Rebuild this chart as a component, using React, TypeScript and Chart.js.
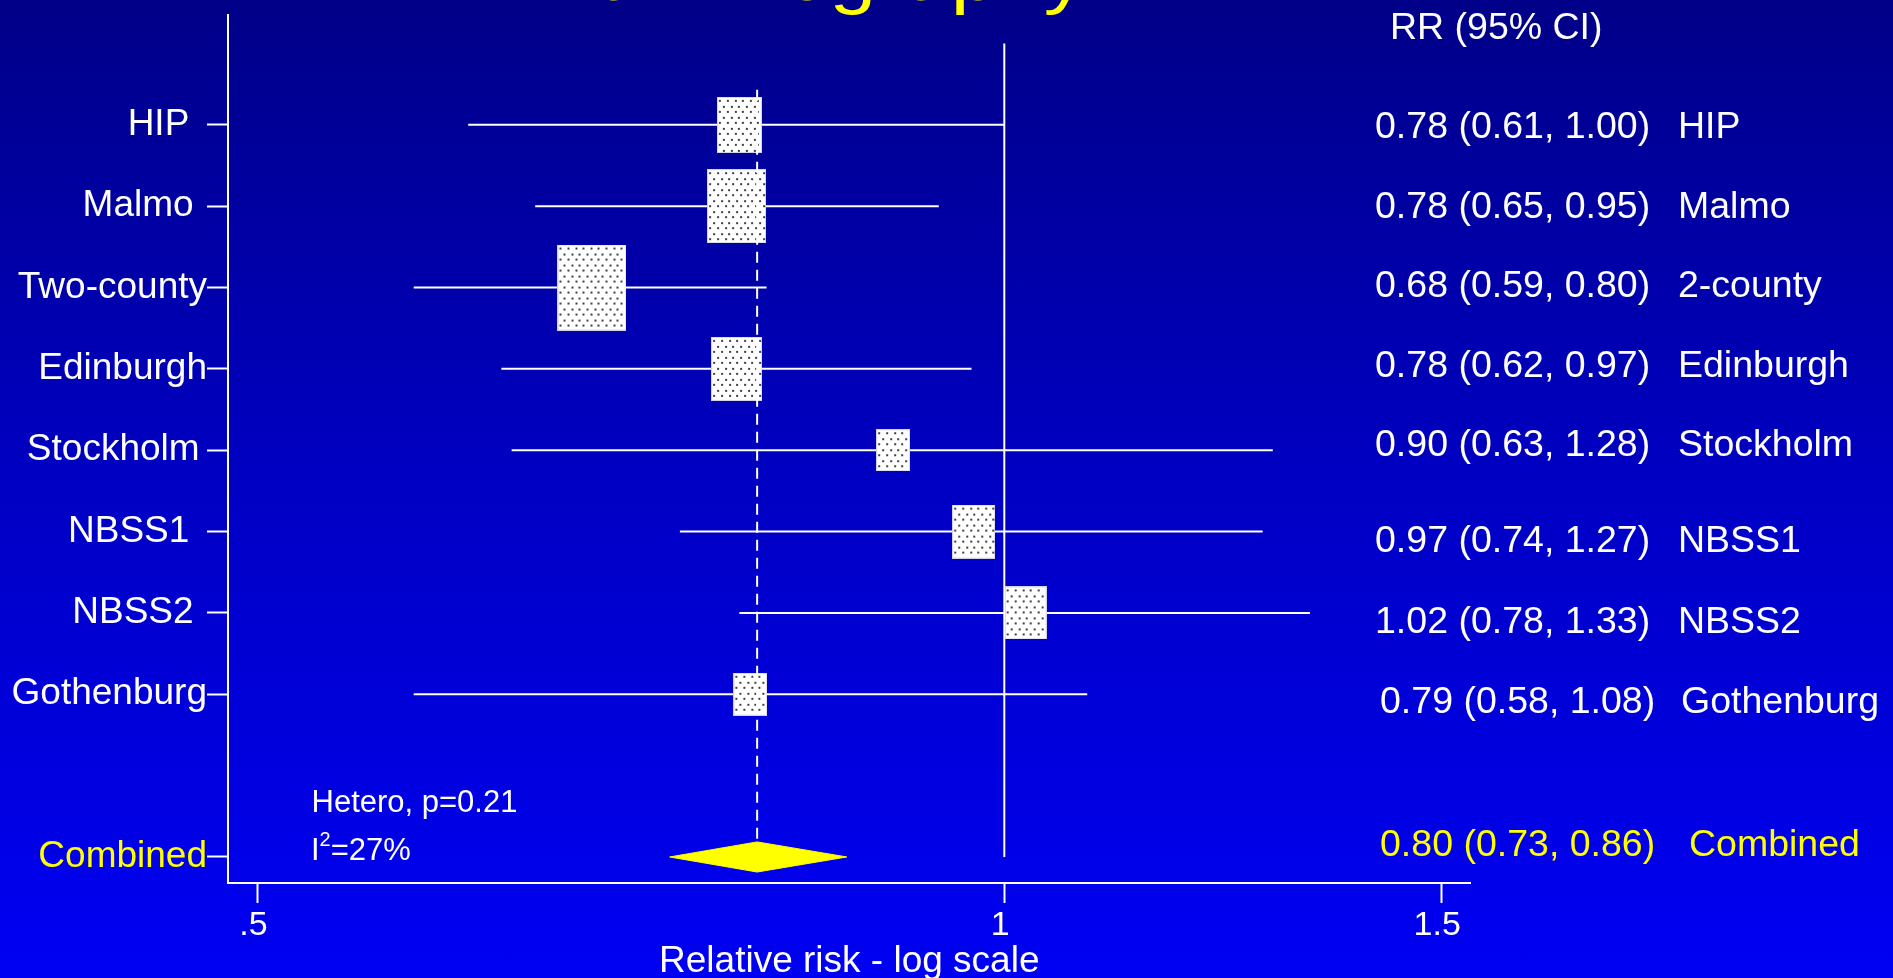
import React, { useEffect, useRef } from "react";
import { Chart, registerables } from "chart.js";

Chart.register(...registerables);

// ---------------- data ----------------
// y-axis labels (trailing spaces as in the original axis labels)
const STUDY_LABELS = ["HIP \u2009", "Malmo \u200A", "Two-county", "Edinburgh", "Stockholm\u2009", "NBSS1 \u2009", "NBSS2 \u200A", "Gothenburg"];
const RIGHT_NAMES = ["HIP", "Malmo", "2-county", "Edinburgh", "Stockholm", "NBSS1", "NBSS2", "Gothenburg"];
// values as printed in the right-hand column
const RR_TEXT = [
  "0.78 (0.61, 1.00)",
  "0.78 (0.65, 0.95)",
  "0.68 (0.59, 0.80)",
  "0.78 (0.62, 0.97)",
  "0.90 (0.63, 1.28)",
  "0.97 (0.74, 1.27)",
  "1.02 (0.78, 1.33)",
  "0.79 (0.58, 1.08)",
];
// values as plotted
const RR = [0.782, 0.78, 0.682, 0.78, 0.902, 0.972, 1.02, 0.79];
const LOWER = [0.608, 0.647, 0.578, 0.627, 0.633, 0.74, 0.782, 0.578];
const UPPER = [1.0, 0.941, 0.802, 0.97, 1.283, 1.271, 1.328, 1.08];
const WEIGHTS = [10.6, 18.5, 25.0, 13.9, 6.0, 9.9, 9.7, 6.4]; // % weight (box area)
const ROWS = [1, 2, 3, 4, 5, 6, 7, 8];

const COMBINED_LABEL = "Combined";
const COMBINED_ROW = 10;
const COMBINED_RR = 0.795;
const COMBINED_LOWER = 0.733;
const COMBINED_UPPER = 0.864;
const COMBINED_TEXT = "0.80 (0.73, 0.86)";

const HETERO_P = "0.21";
const I2 = "27%";

const X_TICKS = [0.5, 1, 1.5];
const X_TICK_LABELS = [".5", "1", "1.5"];
const X_TITLE = "Relative risk - log scale";
const TITLE = "Mammography";

// ---------------- style ----------------
const FONT = "'Liberation Sans', Arial, Helvetica, sans-serif";
const WHITE = "#ffffff";
const YELLOW = "#ffff00";
const X_MIN = 0.4865;
const X_MAX = 1.5414;
const Y_MIN = -0.35;
const Y_MAX = 10.32;
const BOX_K = 17.1;
const BOX_ASPECT = 0.8;

function makeBox(weight: number): HTMLCanvasElement {
  const h = Math.round(BOX_K * Math.sqrt(weight));
  const w = Math.round(h * BOX_ASPECT);
  const c = document.createElement("canvas");
  c.width = w;
  c.height = h;
  const g = c.getContext("2d")!;
  g.fillStyle = "#ffffff";
  g.fillRect(0, 0, w, h);
  let r = 0;
  for (let yy = 3; yy < h - 2; yy += 5.5, r++) {
    for (let xx = r % 2 ? 6.2 : 2.4; xx < w - 2; xx += 7.6) {
      g.fillStyle = "#404040";
      g.fillRect(Math.round(xx), Math.round(yy), 2, 2);
    }
  }
  g.strokeStyle = "#d4d4e6";
  g.lineWidth = 1;
  g.strokeRect(0.5, 0.5, w - 1, h - 1);
  return c;
}

const annotationPlugin = {
  id: "forestText",
  afterDraw(chart: any) {
    const ctx = chart.ctx as CanvasRenderingContext2D;
    ctx.save();
    ctx.textBaseline = "alphabetic";
    ctx.textAlign = "left";

    // slide title (mostly cut off at top)
    ctx.fillStyle = YELLOW;
    ctx.font = `71px ${FONT}`;
    ctx.save();
    ctx.translate(527, 0);
    ctx.scale(1.18, 1);
    ctx.fillText(TITLE, 0, 0);
    ctx.restore();

    // right-hand column
    ctx.fillStyle = WHITE;
    ctx.font = `37.5px ${FONT}`;
    ctx.fillText("RR (95% CI)", 1390, 39);
    const baselines = [138, 218, 297, 377, 456, 552, 633, 713];
    const estX = [1375, 1375, 1375, 1375, 1375, 1375, 1375, 1380];
    const nameX = [1678, 1678, 1678, 1678, 1678, 1678, 1678, 1681];
    RR_TEXT.forEach((t, i) => {
      ctx.fillText(t, estX[i], baselines[i]);
      ctx.fillText(RIGHT_NAMES[i], nameX[i], baselines[i]);
    });
    ctx.fillStyle = YELLOW;
    ctx.fillText(COMBINED_TEXT, 1380, 856);
    ctx.fillText(COMBINED_LABEL, 1689, 856);

    // heterogeneity
    ctx.fillStyle = WHITE;
    ctx.font = `31px ${FONT}`;
    ctx.fillText(`Hetero, p=${HETERO_P}`, 311.5, 812);
    ctx.fillText("I", 311, 860);
    const iw = ctx.measureText("I").width;
    ctx.font = `20px ${FONT}`;
    ctx.fillText("2", 311 + iw, 846);
    const sw = ctx.measureText("2").width;
    ctx.font = `31px ${FONT}`;
    ctx.fillText(`=${I2}`, 311 + iw + sw, 860);
    ctx.restore();
  },
};

export default function App() {
  const ref = useRef<HTMLCanvasElement>(null);

  useEffect(() => {
    const canvas = ref.current;
    if (!canvas) return;
    Chart.defaults.font.family = FONT;

    const boxes = WEIGHTS.map((w) => makeBox(w));

    const ciData: any[] = [];
    ROWS.forEach((row, i) => {
      ciData.push({ x: LOWER[i], y: row });
      ciData.push({ x: UPPER[i], y: row });
      ciData.push({ x: UPPER[i], y: null });
    });

    const allLabels = [...STUDY_LABELS, COMBINED_LABEL];
    const allRows = [...ROWS, COMBINED_ROW];

    const chart = new Chart(canvas, {
      type: "scatter",
      data: {
        datasets: [
          {
            type: "line",
            label: "null",
            data: [
              { x: 1, y: 0 },
              { x: 1, y: COMBINED_ROW },
            ],
            borderColor: WHITE,
            borderWidth: 2,
            pointRadius: 0,
            fill: false,
            order: 6,
          } as any,
          {
            type: "line",
            label: "CI",
            data: ciData,
            borderColor: WHITE,
            borderWidth: 2,
            pointRadius: 0,
            spanGaps: false,
            fill: false,
            order: 5,
          } as any,
          {
            type: "scatter",
            label: "RR",
            data: ROWS.map((row, i) => ({ x: RR[i], y: row })),
            pointStyle: (c: any) => boxes[c.dataIndex] || "rect",
            pointRadius: 5,
            order: 4,
          } as any,
          {
            type: "line",
            label: "pooled",
            data: [
              { x: COMBINED_RR, y: 0.57 },
              { x: COMBINED_RR, y: COMBINED_ROW - 0.19 },
            ],
            borderColor: WHITE,
            borderWidth: 2,
            borderDash: [11, 7],
            pointRadius: 0,
            fill: false,
            order: 3,
          } as any,
          {
            type: "line",
            label: "Combined",
            data: [
              { x: COMBINED_LOWER, y: COMBINED_ROW },
              { x: COMBINED_RR, y: COMBINED_ROW - 0.185 },
              { x: COMBINED_UPPER, y: COMBINED_ROW },
              { x: COMBINED_RR, y: COMBINED_ROW + 0.185 },
              { x: COMBINED_LOWER, y: COMBINED_ROW },
            ],
            borderColor: YELLOW,
            backgroundColor: YELLOW,
            borderWidth: 1,
            pointRadius: 0,
            fill: "shape",
            tension: 0,
            order: 2,
          } as any,
        ],
      },
      options: {
        animation: false,
        responsive: false,
        maintainAspectRatio: false,
        events: [],
        layout: { padding: { left: 0, top: 15, right: 422.5, bottom: 0 } },
        plugins: {
          legend: { display: false },
          tooltip: { enabled: false },
        },
        scales: {
          x: {
            type: "logarithmic",
            min: X_MIN,
            max: X_MAX,
            bounds: "data",
            afterBuildTicks: (s: any) => {
              s.ticks = X_TICKS.map((v) => ({ value: v }));
            },
            afterFit: (s: any) => {
              s.height = 95;
              s.paddingLeft = 0;
              s.paddingRight = 0;
            },
            ticks: {
              callback: (_v: any, i: number) => X_TICK_LABELS[i],
              color: WHITE,
              font: { size: 34 },
              padding: 2,
              labelOffset: -4,
              autoSkip: false,
              maxRotation: 0,
              minRotation: 0,
            },
            grid: {
              drawOnChartArea: false,
              drawTicks: true,
              tickLength: 20,
              tickColor: WHITE,
              tickWidth: 2,
              color: WHITE,
            },
            border: { display: true, color: WHITE, width: 2 },
            title: {
              display: true,
              text: X_TITLE,
              color: WHITE,
              font: { size: 37, lineHeight: 0.9 },
              padding: { top: 0, bottom: 0 },
            },
          },
          y: {
            type: "linear",
            reverse: true,
            min: Y_MIN,
            max: Y_MAX,
            afterBuildTicks: (s: any) => {
              s.ticks = allRows.map((v) => ({ value: v }));
            },
            afterFit: (s: any) => {
              s.width = 228;
              s.paddingTop = 0;
              s.paddingBottom = 0;
            },
            ticks: {
              callback: (_v: any, i: number) => allLabels[i],
              color: (c: any) => (c.index === allRows.length - 1 ? YELLOW : WHITE),
              font: { size: 37 },
              padding: 0,
              autoSkip: false,
            },
            grid: {
              drawOnChartArea: false,
              drawTicks: true,
              tickLength: 21,
              tickColor: WHITE,
              tickWidth: 2,
              color: WHITE,
            },
            border: { display: true, color: WHITE, width: 2 },
          },
        },
      } as any,
      plugins: [annotationPlugin],
    });

    return () => chart.destroy();
  }, []);

  return (
    <div
      style={{
        position: "fixed",
        left: 0,
        top: 0,
        width: 1893,
        height: 978,
        overflow: "hidden",
        background: "linear-gradient(to bottom, #000088 0%, #0000c4 50%, #0000f4 100%)",
      }}
    >
      <canvas ref={ref} width={1893} height={978} style={{ display: "block", width: 1893, height: 978 }} />
    </div>
  );
}
